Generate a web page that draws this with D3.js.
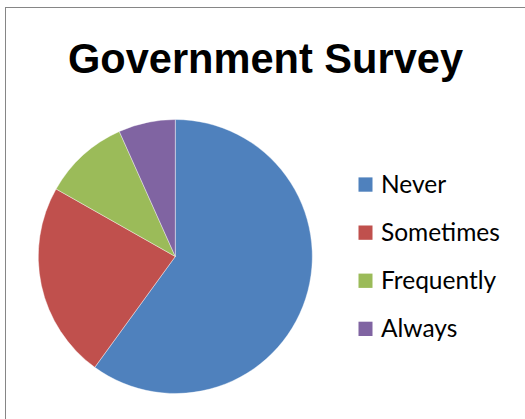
<!DOCTYPE html>
<html>
<head>
<meta charset="utf-8">
<script src="https://cdn.jsdelivr.net/npm/d3@7"></script>
<style>
  html, body { margin: 0; padding: 0; background: #fff; }
  svg { display: block; }
</style>
</head>
<body>
<svg id="chart" width="525" height="419"></svg>
<script>
// Survey responses (percent of respondents)
const categories = ["Never", "Sometimes", "Frequently", "Always"];
const values = [60, 23.2, 10.1, 6.7];
const colors = ["#4F81BD", "#C0504D", "#9BBB59", "#8064A2"];
const titleText = "Government Survey";

const svg = d3.select("#chart");
const W = 525, H = 419;

// Chart frame
svg.append("rect")
  .attr("x", 5.5).attr("y", 7.5)
  .attr("width", W + 10).attr("height", H + 10)
  .attr("fill", "#fff")
  .attr("stroke", "#868686").attr("stroke-width", 1);

// Title (condensed bold)
svg.append("text")
  .attr("x", 68).attr("y", 72.5)
  .attr("textLength", 395)
  .attr("lengthAdjust", "spacingAndGlyphs")
  .attr("font-family", "'Liberation Sans', Arial, sans-serif")
  .attr("font-weight", "bold")
  .attr("font-size", 43)
  .attr("fill", "#000")
  .text(titleText);

// Pie
const cx = 175.3, cy = 256.5, r = 137;
const pie = d3.pie().sort(null).value(d => d.v);
const arc = d3.arc().innerRadius(0).outerRadius(r);
const data = categories.map((c, i) => ({ c, v: values[i] }));
const color = d3.scaleOrdinal().domain(categories).range(colors);

svg.append("g")
  .attr("transform", `translate(${cx},${cy})`)
  .selectAll("path")
  .data(pie(data))
  .join("path")
  .attr("d", arc)
  .attr("fill", d => color(d.data.c))
  .attr("stroke", "#fff")
  .attr("stroke-width", 0.4);

// Legend
const legendY = d3.scalePoint().domain(categories).range([192.7, 337]);
const item = svg.append("g").selectAll("g").data(categories).join("g")
  .attr("transform", c => `translate(358.5,${legendY(c)})`);
item.append("rect")
  .attr("x", 0).attr("y", -15.3)
  .attr("width", 14).attr("height", 14.3)
  .attr("fill", c => color(c));
item.append("text")
  .attr("x", 22.5).attr("y", 0)
  .attr("font-family", "Lato, 'Open Sans', sans-serif")
  .attr("font-size", 24.5)
  .attr("fill", "#000")
  .text(c => c);
</script>
</body>
</html>
